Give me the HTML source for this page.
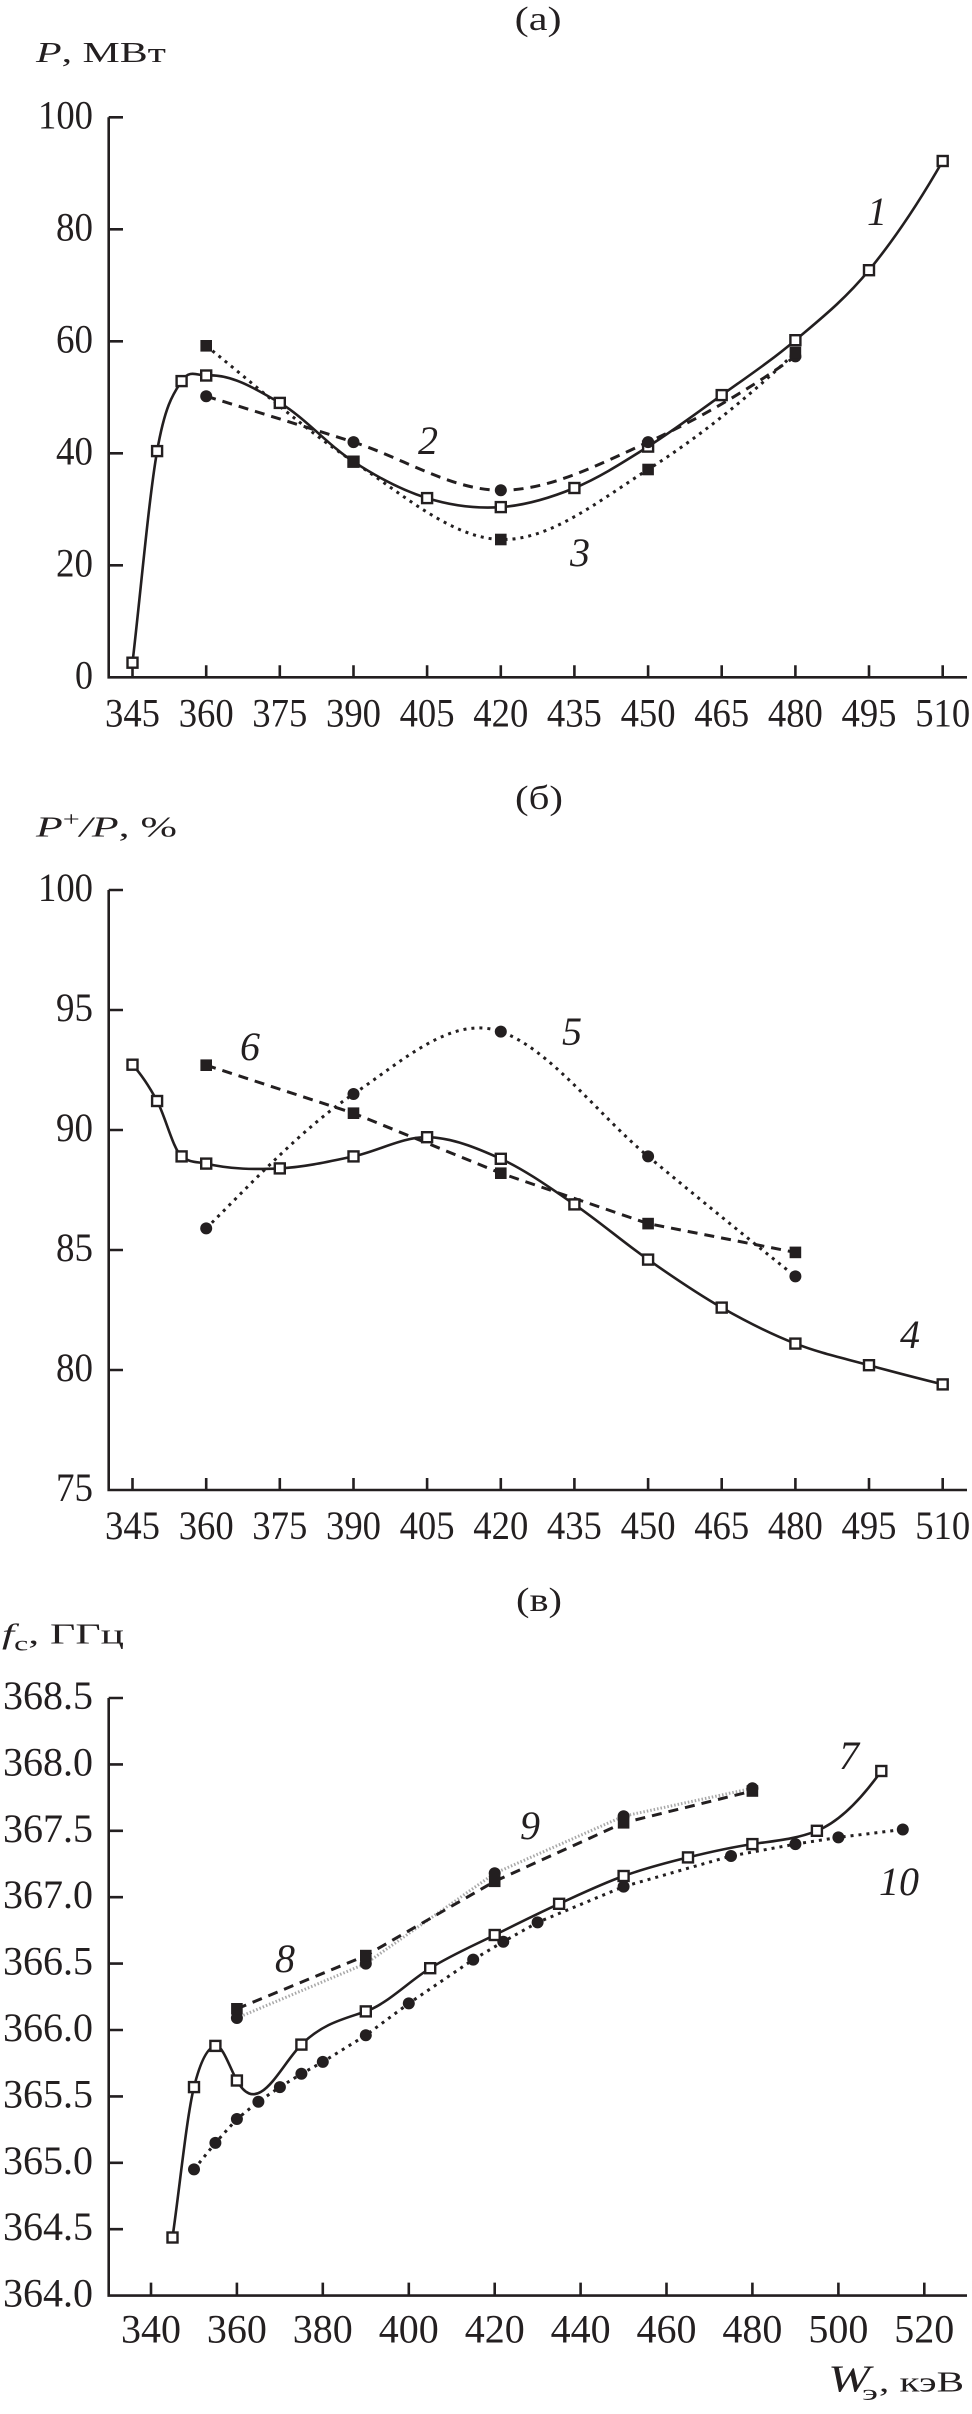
<!DOCTYPE html>
<html>
<head>
<meta charset="utf-8">
<style>
html,body{margin:0;padding:0;background:#fff;}
svg{display:block;}
text{font-family:"Liberation Serif","DejaVu Serif",serif;fill:#231f20;}
.t{font-size:40px;}
.ti{font-size:40px;font-style:italic;}
.h{font-size:29px;}
.pt{font-size:34px;}
</style>
</head>
<body>
<svg width="972" height="2414" viewBox="0 0 972 2414" xmlns="http://www.w3.org/2000/svg">
<rect x="0" y="0" width="972" height="2414" fill="#fff"/>

<!-- ================= PANEL (a) ================= -->
<text class="pt" x="514.6" y="30" textLength="47" lengthAdjust="spacingAndGlyphs">(a)</text>
<text class="h" x="36" y="62" textLength="130" lengthAdjust="spacingAndGlyphs"><tspan font-style="italic">P</tspan>, МВт</text>

<g stroke="#231f20" stroke-width="2.6" fill="none">
  <path d="M108.7,117.3 V677.3 H967"/>
  <path d="M108.7,117.3 H123 M108.7,229.3 H123 M108.7,341.3 H123 M108.7,453.3 H123 M108.7,565.3 H123"/>
  <path d="M132.5,677.3 v-12 M206.2,677.3 v-12 M279.8,677.3 v-12 M353.5,677.3 v-12 M427.1,677.3 v-12 M500.8,677.3 v-12 M574.4,677.3 v-12 M648.1,677.3 v-12 M721.7,677.3 v-12 M795.4,677.3 v-12 M869.0,677.3 v-12 M942.7,677.3 v-12"/>
</g>
<g class="t" text-anchor="end">
  <text x="93" y="128.3" textLength="55" lengthAdjust="spacingAndGlyphs">100</text>
  <text x="93" y="240.3" textLength="37" lengthAdjust="spacingAndGlyphs">80</text>
  <text x="93" y="352.3" textLength="37" lengthAdjust="spacingAndGlyphs">60</text>
  <text x="93" y="464.3" textLength="37" lengthAdjust="spacingAndGlyphs">40</text>
  <text x="93" y="576.3" textLength="37" lengthAdjust="spacingAndGlyphs">20</text>
  <text x="93" y="688.3" textLength="18" lengthAdjust="spacingAndGlyphs">0</text>
</g>
<g class="t" text-anchor="middle">
  <text x="132.5" y="726.7" textLength="55" lengthAdjust="spacingAndGlyphs">345</text>
  <text x="206.2" y="726.7" textLength="55" lengthAdjust="spacingAndGlyphs">360</text>
  <text x="279.8" y="726.7" textLength="55" lengthAdjust="spacingAndGlyphs">375</text>
  <text x="353.5" y="726.7" textLength="55" lengthAdjust="spacingAndGlyphs">390</text>
  <text x="427.1" y="726.7" textLength="55" lengthAdjust="spacingAndGlyphs">405</text>
  <text x="500.8" y="726.7" textLength="55" lengthAdjust="spacingAndGlyphs">420</text>
  <text x="574.4" y="726.7" textLength="55" lengthAdjust="spacingAndGlyphs">435</text>
  <text x="648.1" y="726.7" textLength="55" lengthAdjust="spacingAndGlyphs">450</text>
  <text x="721.7" y="726.7" textLength="55" lengthAdjust="spacingAndGlyphs">465</text>
  <text x="795.4" y="726.7" textLength="55" lengthAdjust="spacingAndGlyphs">480</text>
  <text x="869.0" y="726.7" textLength="55" lengthAdjust="spacingAndGlyphs">495</text>
  <text x="942.7" y="726.7" textLength="55" lengthAdjust="spacingAndGlyphs">510</text>
</g>

<g fill="none" stroke="#231f20">
  <path stroke-width="2.6" d="M132.5,662.7 C140.7,592.2 148.9,498.0 157.1,451.1 C165.3,404.4 173.4,393.7 181.6,381.1 C189.8,368.4 198.0,376.1 206.2,375.5 C230.7,373.6 255.3,388.5 279.8,402.9 C304.4,417.3 328.9,445.8 353.5,461.7 C378.0,477.6 402.6,490.5 427.1,498.1 C451.7,505.7 476.2,508.8 500.8,507.1 C525.3,505.4 549.9,498.1 574.4,488.0 C599.0,477.9 623.5,462.1 648.1,446.6 C672.6,431.1 697.2,412.8 721.7,395.1 C746.3,377.4 770.8,361.0 795.4,340.2 C819.9,319.4 844.5,300.0 869.0,270.2 C893.6,240.3 918.1,203.9 942.7,161.0"/>
  <path stroke-width="3" stroke-dasharray="10 7" d="M206.2,396.2 C255.3,411.4 304.4,426.4 353.5,442.1 C402.6,457.8 451.7,490.3 500.8,490.3 C549.9,490.3 599.0,464.4 648.1,442.1 C697.2,419.8 746.3,391.2 795.4,356.4"/>
  <path stroke-width="3" stroke-dasharray="3 5" d="M206.2,345.8 C255.3,385.1 304.4,429.4 353.5,461.7 C402.6,494.0 451.7,538.2 500.8,539.5 C549.9,540.8 599.0,500.7 648.1,469.5 C697.2,438.3 746.3,399.3 795.4,352.5"/>
</g>
<g fill="#fff" stroke="#231f20" stroke-width="2.4">
  <rect x="127.5" y="657.7" width="10" height="10"/>
  <rect x="152.1" y="446.1" width="10" height="10"/>
  <rect x="176.6" y="376.1" width="10" height="10"/>
  <rect x="201.2" y="370.5" width="10" height="10"/>
  <rect x="274.8" y="397.9" width="10" height="10"/>
  <rect x="348.5" y="456.7" width="10" height="10"/>
  <rect x="422.1" y="493.1" width="10" height="10"/>
  <rect x="495.8" y="502.1" width="10" height="10"/>
  <rect x="569.4" y="483.0" width="10" height="10"/>
  <rect x="643.1" y="441.6" width="10" height="10"/>
  <rect x="716.7" y="390.1" width="10" height="10"/>
  <rect x="790.4" y="335.2" width="10" height="10"/>
  <rect x="864.0" y="265.2" width="10" height="10"/>
  <rect x="937.7" y="156.0" width="10" height="10"/>
</g>
<g fill="#231f20">
  <circle cx="206.2" cy="396.2" r="6"/>
  <circle cx="353.5" cy="442.1" r="6"/>
  <circle cx="500.8" cy="490.3" r="6"/>
  <circle cx="648.1" cy="442.1" r="6"/>
  <circle cx="795.4" cy="356.4" r="6"/>
  <rect x="200.4" y="340.0" width="11.6" height="11.6"/>
  <rect x="347.7" y="455.9" width="11.6" height="11.6"/>
  <rect x="495.0" y="533.7" width="11.6" height="11.6"/>
  <rect x="642.3" y="463.7" width="11.6" height="11.6"/>
  <rect x="789.6" y="346.7" width="11.6" height="11.6"/>
</g>
<g class="ti" text-anchor="middle">
  <text x="877" y="225">1</text>
  <text x="428" y="454">2</text>
  <text x="580" y="566">3</text>
</g>

<!-- ================= PANEL (б) ================= -->
<text class="pt" x="515" y="809" textLength="48" lengthAdjust="spacingAndGlyphs">(б)</text>
<text class="h" x="36" y="836.7" textLength="141" lengthAdjust="spacingAndGlyphs"><tspan font-style="italic">P</tspan><tspan font-size="20" dy="-11">+</tspan><tspan font-style="italic" dy="11">/P</tspan>, %</text>

<g stroke="#231f20" stroke-width="2.6" fill="none">
  <path d="M108.7,890 V1490 H967"/>
  <path d="M108.7,890 H123 M108.7,1010 H123 M108.7,1130 H123 M108.7,1250 H123 M108.7,1370 H123"/>
  <path d="M132.5,1490 v-12 M206.2,1490 v-12 M279.8,1490 v-12 M353.5,1490 v-12 M427.1,1490 v-12 M500.8,1490 v-12 M574.4,1490 v-12 M648.1,1490 v-12 M721.7,1490 v-12 M795.4,1490 v-12 M869.0,1490 v-12 M942.7,1490 v-12"/>
</g>
<g class="t" text-anchor="end">
  <text x="93" y="901" textLength="55" lengthAdjust="spacingAndGlyphs">100</text>
  <text x="93" y="1021" textLength="37" lengthAdjust="spacingAndGlyphs">95</text>
  <text x="93" y="1141" textLength="37" lengthAdjust="spacingAndGlyphs">90</text>
  <text x="93" y="1261" textLength="37" lengthAdjust="spacingAndGlyphs">85</text>
  <text x="93" y="1381" textLength="37" lengthAdjust="spacingAndGlyphs">80</text>
  <text x="93" y="1501" textLength="37" lengthAdjust="spacingAndGlyphs">75</text>
</g>
<g class="t" text-anchor="middle">
  <text x="132.5" y="1539" textLength="55" lengthAdjust="spacingAndGlyphs">345</text>
  <text x="206.2" y="1539" textLength="55" lengthAdjust="spacingAndGlyphs">360</text>
  <text x="279.8" y="1539" textLength="55" lengthAdjust="spacingAndGlyphs">375</text>
  <text x="353.5" y="1539" textLength="55" lengthAdjust="spacingAndGlyphs">390</text>
  <text x="427.1" y="1539" textLength="55" lengthAdjust="spacingAndGlyphs">405</text>
  <text x="500.8" y="1539" textLength="55" lengthAdjust="spacingAndGlyphs">420</text>
  <text x="574.4" y="1539" textLength="55" lengthAdjust="spacingAndGlyphs">435</text>
  <text x="648.1" y="1539" textLength="55" lengthAdjust="spacingAndGlyphs">450</text>
  <text x="721.7" y="1539" textLength="55" lengthAdjust="spacingAndGlyphs">465</text>
  <text x="795.4" y="1539" textLength="55" lengthAdjust="spacingAndGlyphs">480</text>
  <text x="869.0" y="1539" textLength="55" lengthAdjust="spacingAndGlyphs">495</text>
  <text x="942.7" y="1539" textLength="55" lengthAdjust="spacingAndGlyphs">510</text>
</g>

<g fill="none" stroke="#231f20">
  <path stroke-width="2.6" d="M132.5,1064.7 C140.7,1073.7 148.9,1085.7 157.1,1101.0 C165.3,1116.3 173.4,1149.9 181.6,1156.4 C189.8,1163.0 198.0,1161.7 206.2,1163.6 C230.7,1169.4 255.3,1169.6 279.8,1168.4 C304.4,1167.2 328.9,1161.6 353.5,1156.4 C378.0,1151.2 402.6,1136.8 427.1,1137.2 C451.7,1137.6 476.2,1147.6 500.8,1158.8 C525.3,1170.0 549.9,1187.6 574.4,1204.4 C599.0,1221.2 623.5,1242.4 648.1,1259.6 C672.6,1276.8 697.2,1293.6 721.7,1307.6 C746.3,1321.6 770.8,1334.0 795.4,1343.6 C819.9,1353.2 844.5,1358.4 869.0,1365.2 C893.6,1372.0 918.1,1378.3 942.7,1384.4"/>
  <path stroke-width="3" stroke-dasharray="3 5" d="M206.2,1228.4 C255.3,1179.3 304.4,1126.8 353.5,1094.0 C402.6,1061.2 451.7,1014.4 500.8,1031.6 C549.9,1048.8 599.0,1115.6 648.1,1156.4 C697.2,1197.2 746.3,1237.2 795.4,1276.4"/>
  <path stroke-width="3" stroke-dasharray="10 7" d="M206.2,1065.2 L353.5,1113.2 L500.8,1173.2 L648.1,1223.6 L795.4,1252.4"/>
</g>
<g fill="#231f20">
  <circle cx="206.2" cy="1228.4" r="6"/>
  <circle cx="353.5" cy="1094.0" r="6"/>
  <circle cx="500.8" cy="1031.6" r="6"/>
  <circle cx="648.1" cy="1156.4" r="6"/>
  <circle cx="795.4" cy="1276.4" r="6"/>
  <rect x="200.4" y="1059.4" width="11.6" height="11.6"/>
  <rect x="347.7" y="1107.4" width="11.6" height="11.6"/>
  <rect x="495.0" y="1167.4" width="11.6" height="11.6"/>
  <rect x="642.3" y="1217.8" width="11.6" height="11.6"/>
  <rect x="789.6" y="1246.6" width="11.6" height="11.6"/>
</g>
<g fill="#fff" stroke="#231f20" stroke-width="2.4">
  <rect x="127.5" y="1059.7" width="10" height="10"/>
  <rect x="152.1" y="1096.0" width="10" height="10"/>
  <rect x="176.6" y="1151.4" width="10" height="10"/>
  <rect x="201.2" y="1158.6" width="10" height="10"/>
  <rect x="274.8" y="1163.4" width="10" height="10"/>
  <rect x="348.5" y="1151.4" width="10" height="10"/>
  <rect x="422.1" y="1132.2" width="10" height="10"/>
  <rect x="495.8" y="1153.8" width="10" height="10"/>
  <rect x="569.4" y="1199.4" width="10" height="10"/>
  <rect x="643.1" y="1254.6" width="10" height="10"/>
  <rect x="716.7" y="1302.6" width="10" height="10"/>
  <rect x="790.4" y="1338.6" width="10" height="10"/>
  <rect x="864.0" y="1360.2" width="10" height="10"/>
  <rect x="937.7" y="1379.4" width="10" height="10"/>
</g>
<g class="ti" text-anchor="middle">
  <text x="250" y="1060">6</text>
  <text x="572" y="1045">5</text>
  <text x="910" y="1348">4</text>
</g>

<!-- ================= PANEL (в) ================= -->
<text class="pt" x="516" y="1611" textLength="46" lengthAdjust="spacingAndGlyphs">(в)</text>
<text class="h" x="2" y="1643.3" textLength="122" lengthAdjust="spacingAndGlyphs"><tspan font-style="italic">f</tspan><tspan font-size="21" dy="7">c</tspan><tspan dy="-7">, ГГц</tspan></text>

<g stroke="#231f20" stroke-width="2.6" fill="none">
  <path d="M108.7,1698 V2295.6 H967"/>
  <path d="M108.7,1698 H123 M108.7,1764.4 H123 M108.7,1830.8 H123 M108.7,1897.2 H123 M108.7,1963.6 H123 M108.7,2030 H123 M108.7,2096.4 H123 M108.7,2162.8 H123 M108.7,2229.2 H123"/>
  <path d="M151,2295.6 v-13 M236.9,2295.6 v-13 M322.8,2295.6 v-13 M408.8,2295.6 v-13 M494.7,2295.6 v-13 M580.6,2295.6 v-13 M666.5,2295.6 v-13 M752.4,2295.6 v-13 M838.4,2295.6 v-13 M924.3,2295.6 v-13"/>
</g>
<g class="t" text-anchor="end">
  <text x="93" y="1709">368.5</text>
  <text x="93" y="1775.4">368.0</text>
  <text x="93" y="1841.8">367.5</text>
  <text x="93" y="1908.2">367.0</text>
  <text x="93" y="1974.6">366.5</text>
  <text x="93" y="2041">366.0</text>
  <text x="93" y="2107.4">365.5</text>
  <text x="93" y="2173.8">365.0</text>
  <text x="93" y="2240.2">364.5</text>
  <text x="93" y="2306.6">364.0</text>
</g>
<g class="t" text-anchor="middle">
  <text x="151" y="2342.7">340</text>
  <text x="236.9" y="2342.7">360</text>
  <text x="322.8" y="2342.7">380</text>
  <text x="408.8" y="2342.7">400</text>
  <text x="494.7" y="2342.7">420</text>
  <text x="580.6" y="2342.7">440</text>
  <text x="666.5" y="2342.7">460</text>
  <text x="752.4" y="2342.7">480</text>
  <text x="838.4" y="2342.7">500</text>
  <text x="924.3" y="2342.7">520</text>
</g>
<text x="828" y="2391.7" font-size="38" font-style="italic" textLength="42" lengthAdjust="spacingAndGlyphs">W</text>
<text x="862" y="2400" font-size="22" textLength="16" lengthAdjust="spacingAndGlyphs">э</text>
<text class="h" x="879" y="2391.7" textLength="85" lengthAdjust="spacingAndGlyphs">, кэВ</text>

<g fill="none">
  <path stroke="#a8a8a8" stroke-width="3" stroke-dasharray="1.5 2" d="M236.9,2018.0 L365.8,1963.6 L494.7,1873.3 L623.6,1816.2 L752.4,1788.3"/>
  <path stroke="#231f20" stroke-width="3" stroke-dasharray="10 7" d="M236.9,2008.8 L365.8,1955.6 L494.7,1881.3 L623.6,1822.8 L752.4,1791.0"/>
  <path stroke="#231f20" stroke-width="3" stroke-dasharray="3 5" d="M194.0,2169.4 L215.4,2142.9 L236.9,2119.0 L258.4,2101.7 L279.9,2087.1 L301.4,2073.8 L322.8,2061.9 L365.8,2035.3 L408.8,2003.4 L473.2,1959.6 L503.3,1941.7 L537.6,1922.4 L623.6,1886.6 L731.0,1856.0 L795.4,1844.1 L838.4,1837.4 L902.8,1829.5"/>
  <path stroke="#231f20" stroke-width="2.6" d="M172.5,2237.5 C179.7,2187.3 186.8,2115.8 194.0,2087.1 C201.1,2058.6 208.3,2047.3 215.4,2045.9 C222.6,2044.5 229.7,2067.6 236.9,2080.5 C258.4,2119.2 279.9,2066.1 301.4,2044.6 C322.9,2023.1 344.3,2018.9 365.8,2011.4 C387.3,2003.9 408.7,1981.5 430.2,1968.2 C451.7,1954.9 473.2,1945.7 494.7,1935.0 C516.2,1924.3 537.6,1913.6 559.1,1903.8 C580.6,1894.0 602.1,1883.7 623.6,1876.0 C645.1,1868.3 666.5,1862.7 688.0,1857.4 C709.5,1852.1 730.9,1847.3 752.4,1844.1 C773.9,1840.9 795.4,1839.4 816.9,1830.8 C838.4,1822.2 859.8,1801.1 881.3,1771.0"/>
</g>
<g fill="#231f20">
  <circle cx="236.9" cy="2018.0" r="6"/>
  <circle cx="365.8" cy="1963.6" r="6"/>
  <circle cx="494.7" cy="1873.3" r="6"/>
  <circle cx="623.6" cy="1816.2" r="6"/>
  <circle cx="752.4" cy="1788.3" r="6"/>
  <rect x="231.1" y="2003.0" width="11.6" height="11.6"/>
  <rect x="360.0" y="1949.8" width="11.6" height="11.6"/>
  <rect x="488.9" y="1875.5" width="11.6" height="11.6"/>
  <rect x="617.8" y="1817.0" width="11.6" height="11.6"/>
  <rect x="746.6" y="1785.2" width="11.6" height="11.6"/>
  <circle cx="194.0" cy="2169.4" r="6"/>
  <circle cx="215.4" cy="2142.9" r="6"/>
  <circle cx="236.9" cy="2119.0" r="6"/>
  <circle cx="258.4" cy="2101.7" r="6"/>
  <circle cx="279.9" cy="2087.1" r="6"/>
  <circle cx="301.4" cy="2073.8" r="6"/>
  <circle cx="322.8" cy="2061.9" r="6"/>
  <circle cx="365.8" cy="2035.3" r="6"/>
  <circle cx="408.8" cy="2003.4" r="6"/>
  <circle cx="473.2" cy="1959.6" r="6"/>
  <circle cx="503.3" cy="1941.7" r="6"/>
  <circle cx="537.6" cy="1922.4" r="6"/>
  <circle cx="623.6" cy="1886.6" r="6"/>
  <circle cx="731.0" cy="1856.0" r="6"/>
  <circle cx="795.4" cy="1844.1" r="6"/>
  <circle cx="838.4" cy="1837.4" r="6"/>
  <circle cx="902.8" cy="1829.5" r="6"/>
</g>
<g fill="#fff" stroke="#231f20" stroke-width="2.4">
  <rect x="167.5" y="2232.5" width="10" height="10"/>
  <rect x="189.0" y="2082.1" width="10" height="10"/>
  <rect x="210.4" y="2040.9" width="10" height="10"/>
  <rect x="231.9" y="2075.5" width="10" height="10"/>
  <rect x="296.4" y="2039.6" width="10" height="10"/>
  <rect x="360.8" y="2006.4" width="10" height="10"/>
  <rect x="425.2" y="1963.2" width="10" height="10"/>
  <rect x="489.7" y="1930.0" width="10" height="10"/>
  <rect x="554.1" y="1898.8" width="10" height="10"/>
  <rect x="618.6" y="1871.0" width="10" height="10"/>
  <rect x="683.0" y="1852.4" width="10" height="10"/>
  <rect x="747.4" y="1839.1" width="10" height="10"/>
  <rect x="811.9" y="1825.8" width="10" height="10"/>
  <rect x="876.3" y="1766.0" width="10" height="10"/>
</g>
<g class="ti" text-anchor="middle">
  <text x="849" y="1769">7</text>
  <text x="285" y="1972">8</text>
  <text x="530" y="1839">9</text>
  <text x="899" y="1895">10</text>
</g>
</svg>
</body>
</html>
